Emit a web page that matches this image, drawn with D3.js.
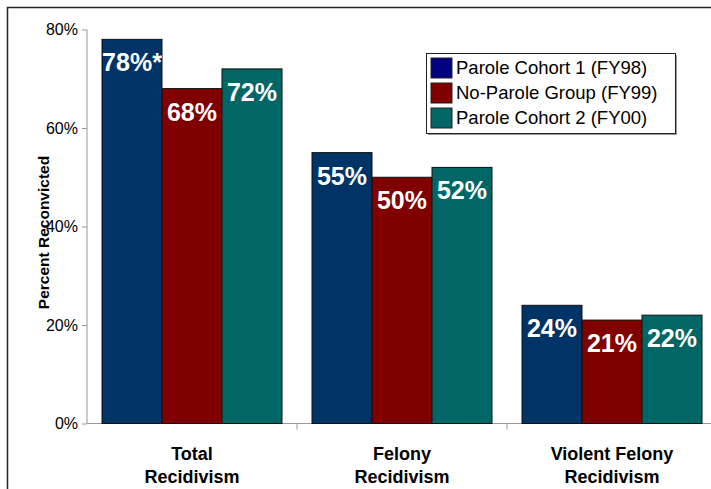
<!DOCTYPE html>
<html>
<head>
<meta charset="utf-8">
<script src="https://cdn.jsdelivr.net/npm/d3@7"></script>
<style>
	body { margin: 0; background: #fff; }
	svg text { font-family: Arial, "Liberation Sans", sans-serif; }
</style>
</head>
<body>
<div id="chart"></div>
<script>
(function (){
	"use strict";

// chart data
var categories = [["Total", "Recidivism"], ["Felony", "Recidivism"], ["Violent Felony", "Recidivism"]];
var seriesNames = ["Parole Cohort 1 (FY98)", "No-Parole Group (FY99)", "Parole Cohort 2 (FY00)"];
var cohort1 = [78, 55, 24],
	noParole = [68, 50, 21],
	cohort2 = [72, 52, 22];
var flags = [["*", "", ""], ["", "", ""], ["", "", ""]]; // per series, per category
var yTicks = [0, 20, 40, 60, 80];

var barColors = ["#003366", "#800000", "#006666"],
	swatchColors = ["#000080", "#800000", "#006666"];

var width = 711,
	height = 489;

var svg = d3.select("#chart").append("svg")
	.attr("width", width)
	.attr("height", height);

// outer frame (runs off the right/bottom edge)
svg.append("rect")
	.attr("x", 7.5).attr("y", 7.5)
	.attr("width", 720).attr("height", 500)
	.attr("fill", "none")
	.attr("stroke", "#222")
	.attr("stroke-width", 1.5);

var left = 87, top = 29.5, bottom = 423.5, right = 717;

var x0 = d3.scaleBand()
	.domain(d3.range(categories.length))
	.range([left, right]);

var x1 = d3.scaleBand()
	.domain(d3.range(seriesNames.length))
	.range([15, x0.bandwidth() - 15]);

var y = d3.scaleLinear()
	.domain([0, 80])
	.range([bottom, top]);

// y axis
var yAxis = svg.append("g")
	.attr("transform", "translate(" + left + ",0)")
	.call(d3.axisLeft(y).tickValues(yTicks).tickSize(5).tickPadding(4)
		.tickFormat(function(d){ return d + "%"; }));
yAxis.selectAll("path, line").attr("stroke", "#999");
yAxis.select(".domain").attr("d", "M0," + y(80) + "V" + y(0));
yAxis.selectAll("text")
	.attr("font-size", 16)
	.attr("fill", "#000")
	.attr("font-family", "Arial, 'Liberation Sans', sans-serif");

// x axis
var xAxis = svg.append("g")
	.attr("transform", "translate(0," + bottom + ")");
xAxis.append("line")
	.attr("x1", left).attr("x2", right)
	.attr("stroke", "#999");
xAxis.selectAll(".tk").data(d3.range(1, categories.length))
	.enter().append("line")
	.attr("class", "tk")
	.attr("x1", function(d){ return x0(d); })
	.attr("x2", function(d){ return x0(d); })
	.attr("y1", 0).attr("y2", 6)
	.attr("stroke", "#999");

var series = [cohort1, noParole, cohort2];

var groups = svg.selectAll("g.series").data(series)
	.enter().append("g")
	.attr("class", "series");

groups.selectAll("rect").data(function(d, s){
		return d.map(function(v, c){ return {s: s, c: c, v: v}; });
	})
	.enter().append("rect")
		.attr("x", function(d){ return x0(d.c) + x1(d.s); })
		.attr("y", function(d){ return y(d.v); })
		.attr("width", x1.bandwidth())
		.attr("height", function(d){ return y(0) - y(d.v); })
		.attr("fill", function(d){ return barColors[d.s]; })
		.attr("stroke", "#111")
		.attr("stroke-width", 1);

groups.selectAll("text").data(function(d, s){
		return d.map(function(v, c){ return {s: s, c: c, v: v}; });
	})
	.enter().append("text")
		.attr("x", function(d){ return x0(d.c) + x1(d.s) + x1.bandwidth() / 2; })
		.attr("y", function(d){ return y(d.v) + 32; })
		.attr("text-anchor", "middle")
		.attr("font-size", 25)
		.attr("font-weight", "bold")
		.attr("fill", "#fff")
		.text(function(d){ return d.v + "%" + flags[d.s][d.c]; });

// category labels
var catLabels = svg.selectAll("text.cat").data(categories)
	.enter().append("text")
	.attr("class", "cat")
	.attr("text-anchor", "middle")
	.attr("font-size", 18)
	.attr("font-weight", "bold")
	.attr("fill", "#000");
catLabels.selectAll("tspan").data(function(d, i){
		return d.map(function(t){ return {t: t, i: i}; });
	})
	.enter().append("tspan")
	.attr("x", function(d){ return x0(d.i) + x0.bandwidth() / 2; })
	.attr("y", function(d, j){ return 460 + j * 23; })
	.text(function(d){ return d.t; });

// y title
svg.append("text")
	.attr("transform", "translate(49," + ((top + bottom) / 2 + 6) + ") rotate(-90)")
	.attr("text-anchor", "middle")
	.attr("font-size", 15.5)
	.attr("font-weight", "bold")
	.attr("fill", "#000")
	.text("Percent Reconvicted");

// legend
var legend = svg.append("g")
	.attr("transform", "translate(426,53)");
legend.append("rect")
	.attr("x", 2).attr("y", 2)
	.attr("width", 249).attr("height", 80)
	.attr("fill", "#999");
legend.append("rect")
	.attr("x", 0.5).attr("y", 0.5)
	.attr("width", 249).attr("height", 80)
	.attr("fill", "#fff")
	.attr("stroke", "#222");
var items = legend.selectAll("g.item").data(seriesNames)
	.enter().append("g")
	.attr("class", "item")
	.attr("transform", function(d, i){ return "translate(5," + (5 + i * 25) + ")"; });
items.append("rect")
	.attr("width", 21).attr("height", 20)
	.attr("fill", function(d, i){ return swatchColors[i]; })
	.attr("stroke", "#222");
items.append("text")
	.attr("x", 25).attr("y", 16)
	.attr("font-size", 18.5)
	.attr("fill", "#000")
	.text(function(d){ return d; });

})();
</script>
</body>
</html>
